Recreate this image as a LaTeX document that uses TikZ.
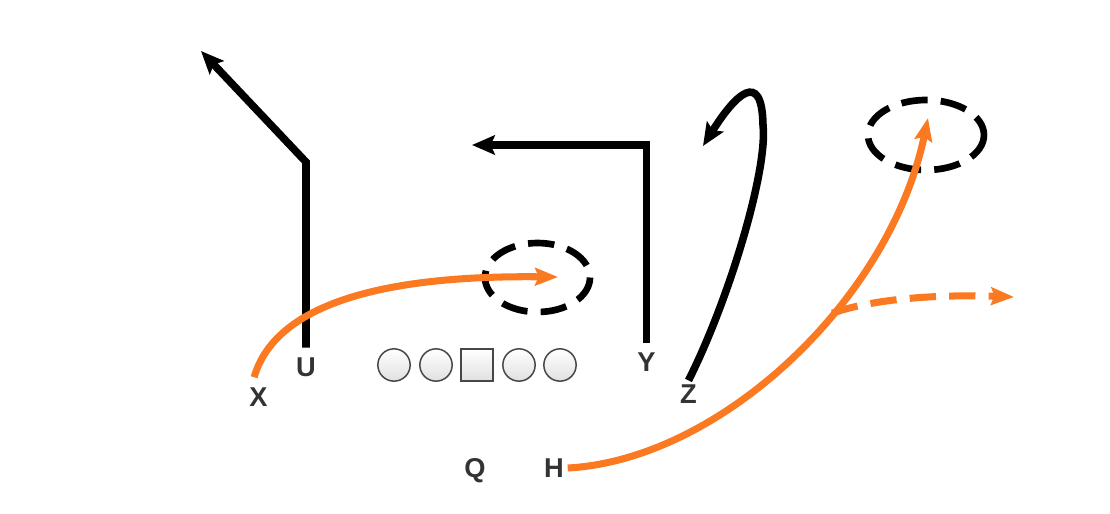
\documentclass[tikz,border=0pt]{standalone}
\usepackage{fontspec}
\setmainfont{Liberation Sans}
\usetikzlibrary{arrows.meta}
\definecolor{hot}{RGB}{250,121,33}
\definecolor{ink}{RGB}{51,51,51}
\begin{document}
\begin{tikzpicture}[x=0.02cm,y=-0.02cm,line join=miter,
  route/.style={line width=4.3pt,-{Stealth[length=13pt,width=11pt,inset=2.5pt]}},
  hotroute/.style={line width=4pt,hot,-{Stealth[length=13pt,width=10pt,inset=2pt]}},
  zone/.style={line width=3.8pt,dash pattern=on 15pt off 7.5pt},
  player/.style={font=\bfseries\fontsize{15.5}{15.5}\selectfont,text=ink,inner sep=0pt,text height=11.1pt,text depth=0pt},
  lineman/.style={circle,draw=black!72,line width=0.85pt,top color=white,bottom color=black!12,minimum size=18.4pt,inner sep=0pt},
  snapper/.style={lineman,rectangle}]
  \useasboundingbox (0,0) rectangle (1110,514);
  \node[lineman] (LT) at (394,365) {};
  \node[lineman] (LG) at (436,365) {};
  \node[snapper] (C) at (477,365) {};
  \node[lineman] (RG) at (519,365) {};
  \node[lineman] (RT) at (560,365) {};
  \node[player] (X) at (258.5,397) {X};
  \node[player] (U) at (306,366.5) {U};
  \node[player] (Y) at (646.5,362) {Y};
  \node[player] (Z) at (688.5,394) {Z};
  \node[player] (Q) at (475,468) {Q};
  \node[player] (H) at (554,468) {H};
  \coordinate (spotA) at (537.5,277.5);
  \coordinate (spotB) at (926,135);
  \coordinate (cornerU) at (306,162);
  \coordinate (cornerY) at (646.5,145);
  \draw[zone] (spotA) ellipse [x radius=52.5, y radius=34.5];
  \draw[zone] (spotB) ellipse [x radius=58, y radius=35];
  \draw[route] ([yshift=5pt]U.north) -- (cornerU) -- (201,51);
  \draw[route] ([yshift=5pt]Y.north) -- (cornerY) -- (472,145);
  \draw[route] ([yshift=2pt]Z.north) .. controls (729,300) and (768,170) .. (763,125)
    .. controls (762,68) and (735,95) .. (703,146);
  \draw[hotroute] ([xshift=-2.5pt,yshift=5.5pt]X.north) .. controls (275,305) and (380,275) .. (558,277);
  \draw[hotroute] ([xshift=2pt]H.east) .. controls (720,460) and (890,300) .. coordinate[pos=0.61] (split) (928,118);
  \draw[hotroute,dash pattern=on 15pt off 7.5pt] (split) .. controls (870,300) and (930,294) .. (1014,297);
\end{tikzpicture}
\end{document}
